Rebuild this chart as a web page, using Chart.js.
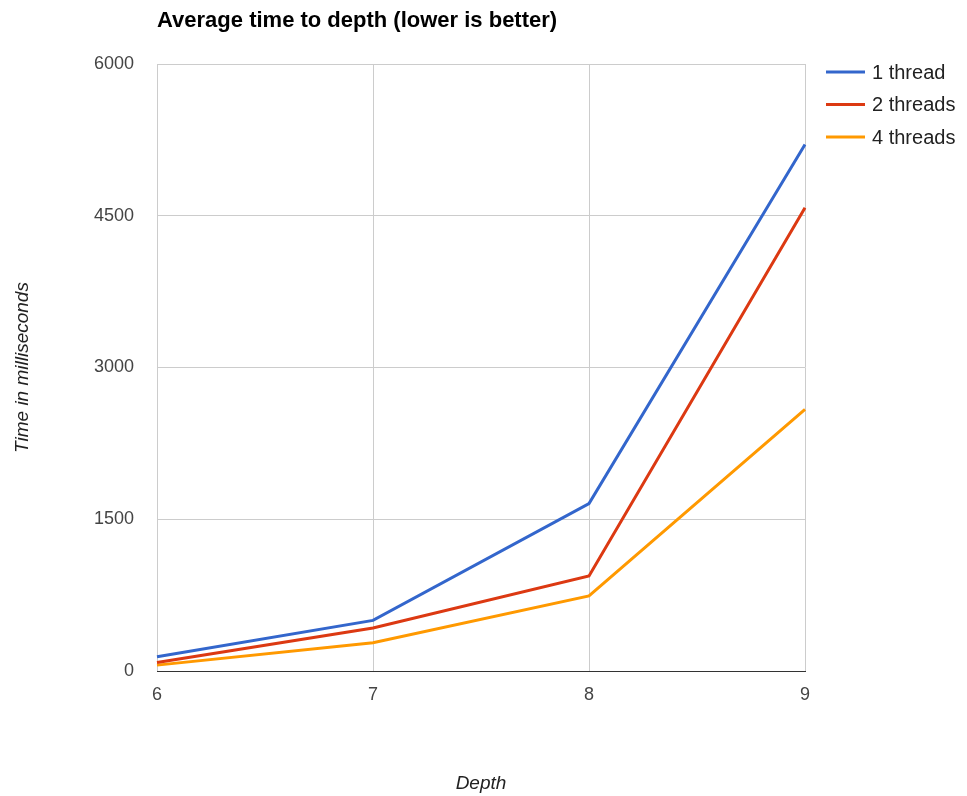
<!DOCTYPE html>
<html>
<head>
<meta charset="utf-8">
<script src="https://cdn.jsdelivr.net/npm/chart.js@4/dist/chart.umd.min.js"></script>
<style>
  html, body { margin: 0; padding: 0; background: #fff; }
  #wrap { width: 967px; height: 796px; position: relative; }
</style>
</head>
<body>
<div id="wrap"><canvas id="myChart" width="967" height="796"></canvas></div>
<script>
// data
const depths = ['6', '7', '8', '9'];
const seriesNames = ['1 thread', '2 threads', '4 threads'];
const oneThread = [140, 500, 1655, 5205];
const twoThreads = [85, 425, 940, 4580];
const fourThreads = [58, 280, 742, 2585];
const yTicks = [0, 1500, 3000, 4500, 6000];

const colors = ['#3366cc', '#dc3912', '#ff9900'];
const FONT = "'Liberation Sans', Arial, sans-serif";

// title + legend drawn by hand, google charts style
const extras = {
  id: 'extras',
  afterDraw(chart) {
    const ctx = chart.ctx;
    ctx.save();
    ctx.fillStyle = '#000';
    ctx.font = 'bold 22px ' + FONT;
    ctx.textBaseline = 'middle';
    ctx.textAlign = 'left';
    ctx.fillText('Average time to depth (lower is better)', 157, 21);

    chart.data.datasets.forEach((ds, i) => {
      const y = 72 + i * 32.5;
      ctx.strokeStyle = ds.borderColor;
      ctx.lineWidth = 3;
      ctx.beginPath();
      ctx.moveTo(826, y);
      ctx.lineTo(865, y);
      ctx.stroke();
      ctx.fillStyle = '#222';
      ctx.font = '20px ' + FONT;
      ctx.fillText(ds.label, 872, y + 1);
    });
    ctx.restore();
  }
};

var ctx = document.getElementById('myChart').getContext('2d');
var myChart = new Chart(ctx, {
  type: 'line',
  data: {
    labels: depths,
    datasets: [
      { label: seriesNames[0], data: oneThread, borderColor: colors[0] },
      { label: seriesNames[1], data: twoThreads, borderColor: colors[1] },
      { label: seriesNames[2], data: fourThreads, borderColor: colors[2] }
    ]
  },
  options: {
    responsive: false,
    animation: false,
    layout: { padding: { left: 0, right: 162, top: 64, bottom: 0 } },
    elements: {
      line: { borderWidth: 3, tension: 0, fill: false },
      point: { radius: 0, hoverRadius: 0 }
    },
    plugins: {
      legend: { display: false },
      title: { display: false },
      tooltip: { enabled: false }
    },
    scales: {
      x: {
        type: 'category',
        offset: false,
        grid: { color: '#cccccc', lineWidth: 1, drawTicks: false },
        border: { color: '#333333', width: 1 },
        ticks: { color: '#444', font: { family: FONT, size: 18 }, padding: 13, maxRotation: 0 },
        title: {
          display: true,
          text: 'Depth',
          color: '#222',
          font: { family: FONT, size: 19, style: 'italic' },
          padding: { top: 0, bottom: 1 }
        },
        afterFit(scale) { scale.height = 125; }
      },
      y: {
        min: 0,
        max: 6000,
        afterBuildTicks(scale) { scale.ticks = yTicks.map(v => ({ value: v })); },
        grid: {
          color: c => (c.tick && c.tick.value === 0) ? '#333333' : '#cccccc',
          lineWidth: 1,
          drawTicks: false
        },
        border: { display: false },
        ticks: {
          color: '#444',
          font: { family: FONT, size: 18 },
          padding: 23,
          callback: v => String(v)
        },
        title: {
          display: true,
          text: 'Time in milliseconds',
          color: '#222',
          font: { family: FONT, size: 19, style: 'italic' },
          padding: { top: 11, bottom: 0 }
        },
        afterFit(scale) { scale.width = 157; }
      }
    }
  },
  plugins: [extras]
});
</script>
</body>
</html>
